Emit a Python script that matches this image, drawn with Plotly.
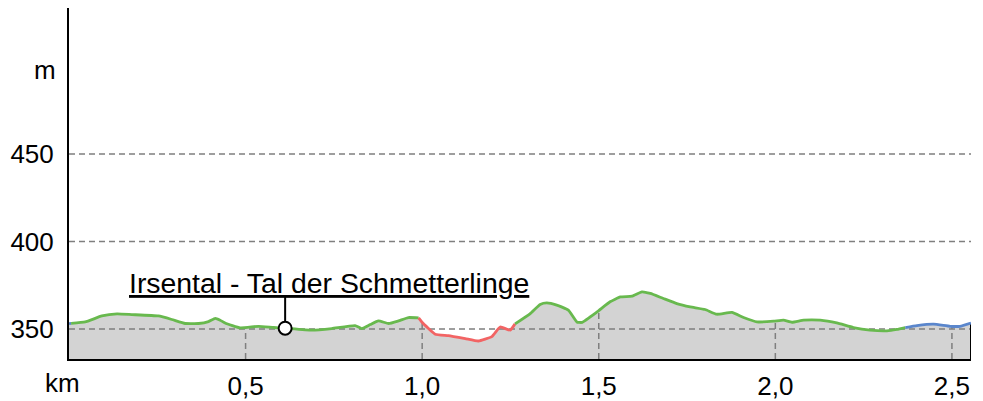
import numpy as np
import plotly.graph_objects as go

# distance (km) and elevation (m) of the profile
km = [0.0, 0.006, 0.046, 0.093, 0.136, 0.178, 0.253, 0.291, 0.329, 0.367, 0.395, 0.414, 0.428,
      0.442, 0.485, 0.537, 0.579, 0.612, 0.688, 0.744, 0.810, 0.829, 0.853, 0.876, 0.905,
      0.933, 0.961, 0.990, 0.999, 1.037, 1.074, 1.122, 1.159, 1.197, 1.221, 1.249, 1.263,
      1.306, 1.334, 1.353, 1.381, 1.414, 1.438, 1.452, 1.495, 1.532, 1.561, 1.594, 1.622,
      1.646, 1.683, 1.721, 1.759, 1.801, 1.834, 1.877, 1.910, 1.948, 1.995, 2.023, 2.047,
      2.080, 2.127, 2.174, 2.221, 2.268, 2.316, 2.344, 2.368, 2.401, 2.448, 2.495, 2.523, 2.554]
elev = [353.0, 353.2, 354.0, 357.4, 358.6, 358.2, 357.4, 355.4, 353.1, 353.1, 354.2, 356.0, 355.0,
        353.4, 350.6, 351.5, 350.8, 350.4, 349.3, 350.2, 351.9, 350.2, 352.5, 354.6, 353.1,
        354.6, 356.5, 356.3, 354.0, 347.0, 346.2, 344.5, 343.1, 345.6, 351.1, 349.3, 352.9,
        358.8, 364.0, 364.9, 363.6, 360.7, 354.0, 353.7, 359.7, 365.5, 368.3, 368.7, 371.2,
        370.3, 367.4, 364.5, 362.6, 361.1, 358.4, 359.4, 356.5, 354.0, 354.4, 355.0, 353.8,
        355.0, 355.0, 353.4, 350.8, 349.3, 348.9, 349.7, 350.8, 351.9, 352.7, 351.5, 351.5, 353.4]

# coloured path segments (start km, end km, kind)
seg_start = [0.0, 0.006, 0.990, 1.263, 2.368]
seg_end = [0.006, 0.990, 1.263, 2.368, 2.554]
seg_kind = ["blue", "green", "red", "green", "blue"]
kind_color = {"green": "#68b94e", "red": "#f26464", "blue": "#5a86cc"}

# point of interest
poi_km = [0.612]
poi_elev = [350.4]
poi_label = ["Irsental - Tal der Schmetterlinge"]
poi_label_elev = 368.4

# axes
y_ticks = [350, 400, 450]
y_unit = "m"
y_unit_pos = 498
x_ticks = [0.5, 1.0, 1.5, 2.0, 2.5]
x_ticktext = ["0,5", "1,0", "1,5", "2,0", "2,5"]
x_unit = "km"
y_range = [332.8, 533.5]
x_range = [0, km[-1]]

FONT = "Liberation Sans, Arial, sans-serif"
GRID = "#7f7f7f"

fig = go.Figure()

# filled area
fig.add_trace(go.Scatter(x=km, y=elev, mode="lines",
                         line=dict(width=0, shape="spline", smoothing=0.4),
                         fill="tozeroy", fillcolor="#d3d3d3", hoverinfo="skip"))

# horizontal grid lines
for yv in y_ticks:
    fig.add_trace(go.Scatter(x=[0, km[-1]], y=[yv, yv], mode="lines",
                             line=dict(color=GRID, width=1.5, dash="6px,4px"), hoverinfo="skip"))

# vertical grid lines under the profile
for xv in x_ticks:
    top = float(np.interp(xv, km, elev))
    fig.add_trace(go.Scatter(x=[xv, xv], y=[y_range[0], top], mode="lines",
                             line=dict(color=GRID, width=1.5, dash="6px,4px"), hoverinfo="skip"))

# right edge of the area
fig.add_trace(go.Scatter(x=[km[-1], km[-1]], y=[y_range[0], elev[-1]], mode="lines",
                         line=dict(color="black", width=2), hoverinfo="skip"))

# coloured profile
kma = np.array(km)
ela = np.array(elev)
for s, e, k in zip(seg_start, seg_end, seg_kind):
    m = (kma >= s - 1e-9) & (kma <= e + 1e-9)
    fig.add_trace(go.Scatter(x=kma[m], y=ela[m], mode="lines",
                             line=dict(color=kind_color[k], width=2.8, shape="spline",
                                       smoothing=0.4), hoverinfo="skip"))

# POI leader and marker
for px, pe, lab in zip(poi_km, poi_elev, poi_label):
    fig.add_trace(go.Scatter(x=[px, px], y=[pe, poi_label_elev], mode="lines",
                             line=dict(color="black", width=2), hoverinfo="skip"))
    fig.add_trace(go.Scatter(x=[px], y=[pe], mode="markers",
                             marker=dict(size=13, color="white", line=dict(color="black", width=2)),
                             hoverinfo="skip"))
    fig.add_annotation(x=px, y=poi_label_elev, xref="x", yref="y", text=lab, showarrow=False,
                       xanchor="left", yanchor="bottom", xshift=-158, yshift=-4,
                       font=dict(family=FONT, size=28.4, color="black", lineposition="under"))

# unit labels
fig.add_annotation(x=0, y=y_unit_pos, xref="paper", yref="y", text=y_unit, showarrow=False,
                   xanchor="right", yanchor="middle", xshift=-11,
                   font=dict(family=FONT, size=26, color="black"))
fig.add_annotation(x=0, y=0, xref="x", yref="paper", text=x_unit, showarrow=False,
                   xanchor="center", yanchor="top", xshift=-7, yshift=-7,
                   font=dict(family=FONT, size=26, color="black"))

# the page body adds an 8px margin, so the figure is 8px smaller than the window
fig.update_layout(
    width=975, height=393,
    margin=dict(l=61, r=12, t=0, b=42, pad=0, autoexpand=False),
    plot_bgcolor="white", paper_bgcolor="white",
    showlegend=False, hovermode=False,
    font=dict(family=FONT, size=26, color="black"),
    xaxis=dict(range=x_range, tickvals=x_ticks, ticktext=x_ticktext, showgrid=False,
               zeroline=False, showline=True, linecolor="black", linewidth=2, ticks="",
               automargin=False,
               ticklabelstandoff=3, tickfont=dict(family=FONT, size=26, color="black")),
    yaxis=dict(range=y_range, tickvals=y_ticks, showgrid=False, zeroline=False,
               showline=True, linecolor="black", linewidth=2, ticks="", automargin=False,
               ticklabelstandoff=8, tickfont=dict(family=FONT, size=26, color="black")),
)

fig.write_html("out.html")
